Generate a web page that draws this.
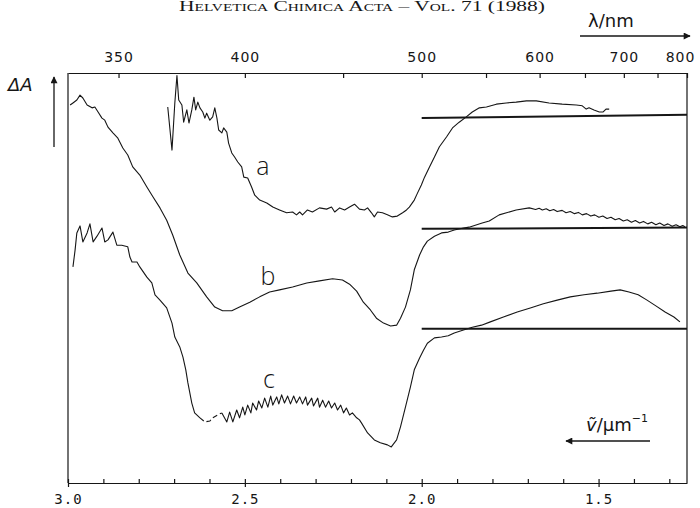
<!DOCTYPE html>
<html>
<head>
<meta charset="utf-8">
<script src="https://cdn.jsdelivr.net/npm/d3@7"></script>
<style>
  body { margin: 0; background: #fff; }
  svg { display: block; }
</style>
</head>
<body>
<div id="chart"></div>
<script>
// transient absorption, wavenumber in um^-1 vs dA (arbitrary units, traces offset)
var traceA = [
  [2.718, 91.7], [2.706, 81.2], [2.698, 92.7], [2.692, 99.4], [2.687, 93.4], [2.678, 92.2],
  [2.673, 88.0], [2.664, 91.0], [2.658, 87.8], [2.650, 91.0], [2.644, 94.1], [2.639, 91.0],
  [2.633, 92.9], [2.627, 91.5], [2.619, 90.5], [2.613, 89.0], [2.608, 90.2], [2.599, 88.5],
  [2.591, 89.3], [2.585, 91.5], [2.579, 89.0], [2.574, 86.1], [2.565, 85.4], [2.560, 86.6],
  [2.551, 85.6], [2.546, 82.9], [2.537, 80.5], [2.529, 79.5], [2.520, 78.3], [2.509, 77.1],
  [2.503, 74.6], [2.492, 74.4], [2.481, 72.2], [2.472, 70.2], [2.458, 69.0], [2.438, 68.3],
  [2.421, 67.3], [2.402, 66.6], [2.382, 65.9], [2.365, 66.1], [2.354, 65.4], [2.345, 66.1],
  [2.337, 65.4], [2.323, 66.6], [2.309, 66.1], [2.289, 67.1], [2.269, 66.8], [2.255, 67.3],
  [2.246, 66.1], [2.232, 67.1], [2.218, 66.6], [2.204, 67.3], [2.190, 68.0], [2.176, 66.8],
  [2.162, 66.6], [2.153, 67.1], [2.142, 65.9], [2.134, 64.9], [2.125, 66.1], [2.111, 65.9],
  [2.097, 65.4], [2.083, 64.9], [2.069, 65.1], [2.054, 65.9], [2.043, 66.6], [2.035, 67.3],
  [2.021, 69.0], [2.012, 70.7], [2.001, 72.7], [1.992, 74.6], [1.978, 77.1], [1.964, 79.5],
  [1.950, 82.0], [1.930, 84.4], [1.913, 86.6], [1.894, 88.0], [1.874, 89.3], [1.857, 90.5],
  [1.837, 91.5], [1.817, 91.7], [1.789, 92.4], [1.761, 92.7], [1.733, 92.9], [1.704, 93.2],
  [1.676, 93.2], [1.640, 92.7], [1.603, 92.4], [1.563, 92.2], [1.546, 92.0], [1.535, 91.2],
  [1.527, 91.5], [1.513, 91.0], [1.498, 90.5], [1.487, 90.5], [1.479, 91.2], [1.470, 91.2]
]

var traceB = [
  [2.994, 92.2], [2.986, 92.7], [2.975, 93.4], [2.966, 94.6], [2.958, 93.9], [2.946, 92.2],
  [2.932, 91.5], [2.924, 91.7], [2.915, 90.5], [2.904, 89.0], [2.896, 88.5], [2.887, 86.8],
  [2.873, 85.4], [2.859, 84.1], [2.845, 81.7], [2.831, 80.0], [2.817, 77.1], [2.797, 75.1],
  [2.777, 72.2], [2.760, 69.8], [2.740, 67.1], [2.721, 64.1], [2.704, 60.5], [2.684, 55.6],
  [2.661, 51.2], [2.636, 48.8], [2.608, 45.4], [2.585, 42.9], [2.563, 42.0], [2.537, 42.0],
  [2.515, 42.9], [2.486, 44.1], [2.458, 45.4], [2.430, 46.6], [2.402, 47.1], [2.365, 47.8],
  [2.325, 48.8], [2.289, 49.3], [2.252, 49.8], [2.224, 49.5], [2.204, 48.5], [2.184, 46.8],
  [2.165, 44.1], [2.145, 42.2], [2.128, 40.2], [2.108, 39.0], [2.088, 38.3], [2.071, 38.5],
  [2.060, 40.2], [2.046, 42.9], [2.032, 47.1], [2.021, 52.0], [2.006, 55.6], [1.995, 57.6],
  [1.984, 59.0], [1.964, 60.2], [1.944, 61.0], [1.925, 61.2], [1.908, 61.7], [1.882, 62.2],
  [1.866, 62.4], [1.829, 63.4], [1.809, 63.9], [1.781, 65.4], [1.733, 66.6], [1.696, 67.1],
  [1.678, 66.7], [1.668, 67.0], [1.659, 66.6], [1.648, 66.9], [1.638, 66.4], [1.627, 66.7],
  [1.617, 66.2], [1.603, 66.5], [1.592, 65.9], [1.580, 66.2], [1.568, 65.7], [1.557, 66.0],
  [1.546, 65.4], [1.534, 65.7], [1.522, 65.1], [1.511, 65.4], [1.499, 64.8], [1.488, 65.1],
  [1.476, 64.5], [1.465, 64.8], [1.453, 64.2], [1.442, 64.5], [1.430, 63.9], [1.419, 64.2],
  [1.407, 63.6], [1.396, 64.0], [1.384, 63.4], [1.373, 63.8], [1.361, 63.2], [1.350, 63.6],
  [1.338, 63.0], [1.327, 63.4], [1.315, 62.8], [1.304, 63.2], [1.292, 62.6], [1.281, 63.0],
  [1.270, 62.5], [1.262, 62.8], [1.256, 62.5]
]

var traceC = [
  [2.986, 52.7], [2.980, 56.8], [2.975, 61.0], [2.966, 62.7], [2.958, 58.8], [2.946, 61.0],
  [2.938, 63.2], [2.929, 58.8], [2.918, 60.2], [2.904, 62.2], [2.896, 58.8], [2.887, 59.3],
  [2.873, 61.2], [2.862, 58.0], [2.848, 58.0], [2.831, 57.6], [2.825, 55.1], [2.819, 53.9],
  [2.805, 53.9], [2.797, 52.7], [2.777, 50.2], [2.763, 48.8], [2.754, 45.9], [2.740, 44.6],
  [2.721, 42.7], [2.706, 39.0], [2.698, 35.6], [2.684, 33.2], [2.675, 30.7], [2.667, 27.6],
  [2.661, 24.4], [2.650, 19.5], [2.642, 17.1], [2.627, 15.9], [2.613, 14.9], [2.599, 15.1],
  [2.591, 15.9], [2.577, 16.6], [2.565, 17.1], [2.551, 14.9], [2.543, 17.3], [2.534, 14.9],
  [2.523, 17.8], [2.515, 15.9], [2.506, 18.5], [2.500, 16.6], [2.492, 19.0], [2.483, 17.1],
  [2.478, 19.5], [2.467, 17.8], [2.461, 20.0], [2.452, 18.3], [2.444, 20.7], [2.435, 18.5],
  [2.427, 21.2], [2.421, 19.0], [2.410, 21.0], [2.404, 19.3], [2.396, 21.5], [2.388, 19.5],
  [2.379, 21.2], [2.371, 19.3], [2.362, 21.2], [2.354, 19.5], [2.345, 21.0], [2.337, 19.3],
  [2.328, 21.0], [2.323, 19.0], [2.311, 20.7], [2.306, 18.8], [2.294, 20.7], [2.289, 18.5],
  [2.280, 20.2], [2.272, 18.5], [2.263, 20.0], [2.255, 18.3], [2.246, 19.5], [2.238, 17.8],
  [2.229, 19.0], [2.221, 17.1], [2.213, 18.3], [2.204, 16.6], [2.196, 17.1], [2.184, 15.9],
  [2.176, 15.4], [2.170, 14.6], [2.153, 12.2], [2.134, 10.5], [2.117, 9.8], [2.097, 9.3],
  [2.086, 8.8], [2.071, 10.5], [2.060, 13.7], [2.046, 18.5], [2.032, 23.4], [2.021, 27.6],
  [2.006, 30.5], [1.995, 32.4], [1.984, 34.1], [1.964, 35.4], [1.944, 35.6], [1.925, 35.9],
  [1.908, 36.6], [1.882, 37.3], [1.857, 38.0], [1.831, 38.5], [1.806, 39.3], [1.769, 40.5],
  [1.730, 41.7], [1.693, 42.7], [1.656, 43.7], [1.617, 44.6], [1.580, 45.4], [1.541, 45.9],
  [1.504, 46.3], [1.465, 46.8], [1.439, 47.1], [1.414, 46.6], [1.388, 45.9], [1.363, 44.6],
  [1.338, 43.2], [1.312, 41.7], [1.287, 40.5], [1.270, 39.3]
]
// part of trace c that is only dashed in the original
var cDashed = [2.627, 2.565]

// zero lines of the three traces
var zeroA = [[2.0, 89.0], [1.25, 89.8]]
var zeroB = [[2.0, 62.0], [1.25, 62.3]]
var zeroC = [[2.0, 37.6], [1.25, 37.6]]

var traceNames = ['a', 'b', 'c']
var namePos = [[2.449, 75.1], [2.435, 48.3], [2.432, 23.2]]

var nmTicks = [350, 400, 450, 500, 550, 600, 650, 700, 750, 800]
var nmLabels = [350, 400, 500, 600, 700, 800]
var nuLabels = [3.0, 2.5, 2.0, 1.5]

var width = 700
var height = 508
var margin = { top: 73, left: 68, right: 13, bottom: 25 }
var ink = '#161616'

var svg = d3
  .select('#chart')
  .append('svg')
  .attr('width', width)
  .attr('height', height)

var xScale = d3
  .scaleLinear()
  .domain([3.0, 1.25])
  .range([margin.left, width - margin.right])

var yScale = d3
  .scaleLinear()
  .domain([0, 100])
  .range([height - margin.bottom, margin.top])

var line = d3
  .line()
  .x(d => xScale(d[0]))
  .y(d => yScale(d[1]))

svg
  .append('defs')
  .append('marker')
  .attr('id', 'head')
  .attr('viewBox', '0 0 10 10')
  .attr('refX', 9)
  .attr('refY', 5)
  .attr('markerWidth', 10)
  .attr('markerHeight', 7)
  .attr('markerUnits', 'userSpaceOnUse')
  .attr('orient', 'auto')
  .append('path')
  .attr('d', 'M0,0 L10,5 L0,10 Z')
  .attr('fill', ink)

// header of the journal page
svg
  .append('text')
  .attr('x', 362)
  .attr('y', 11)
  .attr('text-anchor', 'middle')
  .attr('font-family', 'Liberation Serif')
  .attr('font-size', 14)
  .attr('font-variant', 'small-caps')
  .attr('textLength', 366)
  .attr('lengthAdjust', 'spacingAndGlyphs')
  .attr('fill', ink)
  .text('Helvetica Chimica Acta – Vol. 71 (1988)')

// bottom axis, wavenumber
var bottom = height - margin.bottom
var minorAxis = d3
  .axisBottom(xScale)
  .tickValues(d3.range(13, 31).map(d => d / 10))
  .tickSize(-4)
  .tickSizeOuter(0)
  .tickFormat('')

svg
  .append('g')
  .attr('class', 'axis')
  .attr('transform', 'translate(0,' + bottom + ')')
  .call(minorAxis)

var majorAxis = d3
  .axisBottom(xScale)
  .tickValues(nuLabels)
  .tickSize(4)
  .tickPadding(7)
  .tickFormat(d3.format('.1f'))

svg
  .append('g')
  .attr('class', 'axis nu-labels')
  .attr('transform', 'translate(0,' + bottom + ')')
  .call(majorAxis)
  .call(g => g.select('.domain').remove())

svg
  .selectAll('.nu-labels text')
  .attr('font-family', 'DejaVu Sans Mono')
  .attr('font-size', 14)
  .attr('letter-spacing', 1)

// top axis, wavelength
var topAxis = d3
  .axisTop(xScale)
  .tickValues(nmTicks.map(l => 1000 / l))
  .tickSize(-5)
  .tickSizeOuter(0)
  .tickPadding(11)
  .tickFormat((d, i) => (nmLabels.indexOf(nmTicks[i]) > -1 ? nmTicks[i] : ''))

svg
  .append('g')
  .attr('class', 'axis nm-labels')
  .attr('transform', 'translate(0,' + margin.top + ')')
  .call(topAxis)

svg
  .selectAll('.nm-labels text')
  .attr('font-family', 'DejaVu Sans')
  .attr('font-size', 14)
  .attr('letter-spacing', 1)
  .attr('dx', (d, i) => (i === nmTicks.length - 1 ? -7 : 0))

svg.selectAll('.axis path, .axis line').attr('stroke', ink).attr('stroke-width', 1.2)
svg.selectAll('.axis text').attr('fill', ink)

// side frames
svg
  .selectAll('.frame')
  .data([3.0, 1.25])
  .enter()
  .append('line')
  .attr('class', 'frame')
  .attr('x1', d => xScale(d))
  .attr('x2', d => xScale(d))
  .attr('y1', margin.top)
  .attr('y2', bottom)
  .attr('stroke', ink)
  .attr('stroke-width', 1.2)

// zero lines
svg
  .selectAll('.zero')
  .data([zeroA, zeroB, zeroC])
  .enter()
  .append('path')
  .attr('class', 'zero')
  .attr('d', line)
  .attr('fill', 'none')
  .attr('stroke', ink)
  .attr('stroke-width', 2)

// traces
var inGap = d => d[0] < cDashed[0] && d[0] > cDashed[1]

svg
  .selectAll('.trace')
  .data([traceA, traceB])
  .enter()
  .append('path')
  .attr('class', 'trace')
  .attr('d', line)
  .attr('fill', 'none')
  .attr('stroke', ink)
  .attr('stroke-width', 1.1)
  .attr('stroke-linejoin', 'round')

svg
  .append('path')
  .datum(traceC)
  .attr('d', line.defined(d => !inGap(d)))
  .attr('fill', 'none')
  .attr('stroke', ink)
  .attr('stroke-width', 1.1)
  .attr('stroke-linejoin', 'round')

line.defined(() => true)

svg
  .append('path')
  .datum(traceC.filter(d => d[0] <= cDashed[0] && d[0] >= cDashed[1]))
  .attr('d', line)
  .attr('fill', 'none')
  .attr('stroke', ink)
  .attr('stroke-width', 1.1)
  .attr('stroke-dasharray', '5,3')

svg
  .selectAll('.trace-name')
  .data(traceNames)
  .enter()
  .append('text')
  .attr('class', 'trace-name')
  .attr('x', (d, i) => xScale(namePos[i][0]))
  .attr('y', (d, i) => yScale(namePos[i][1]))
  .attr('text-anchor', 'middle')
  .attr('font-family', 'Open Sans')
  .attr('font-weight', 300)
  .attr('font-size', 25)
  .attr('fill', ink)
  .text(d => d)

// axis titles and arrows
svg
  .append('text')
  .attr('x', 8)
  .attr('y', 91)
  .attr('font-family', 'DejaVu Sans')
  .attr('font-style', 'italic')
  .attr('font-size', 18)
  .attr('fill', ink)
  .text('ΔA')

svg
  .append('line')
  .attr('x1', 54)
  .attr('y1', 147)
  .attr('x2', 54)
  .attr('y2', 77)
  .attr('stroke', ink)
  .attr('stroke-width', 1.3)
  .attr('marker-end', 'url(#head)')

svg
  .append('text')
  .attr('x', 588)
  .attr('y', 27)
  .attr('font-family', 'DejaVu Sans')
  .attr('font-size', 18)
  .attr('fill', ink)
  .text('λ/nm')

svg
  .append('line')
  .attr('x1', 580)
  .attr('y1', 36)
  .attr('x2', 690)
  .attr('y2', 36)
  .attr('stroke', ink)
  .attr('stroke-width', 1.3)
  .attr('marker-end', 'url(#head)')

var nuTitle = svg
  .append('text')
  .attr('x', 586)
  .attr('y', 431)
  .attr('font-family', 'DejaVu Sans')
  .attr('font-size', 18)
  .attr('fill', ink)

nuTitle.append('tspan').attr('font-style', 'italic').text('ṽ')
nuTitle.append('tspan').text('/µm')
nuTitle
  .append('tspan')
  .attr('font-size', 11)
  .attr('dy', -9)
  .text('−1')

svg
  .append('line')
  .attr('x1', 650)
  .attr('y1', 441)
  .attr('x2', 566)
  .attr('y2', 441)
  .attr('stroke', ink)
  .attr('stroke-width', 1.3)
  .attr('marker-end', 'url(#head)')
</script>
</body>
</html>
